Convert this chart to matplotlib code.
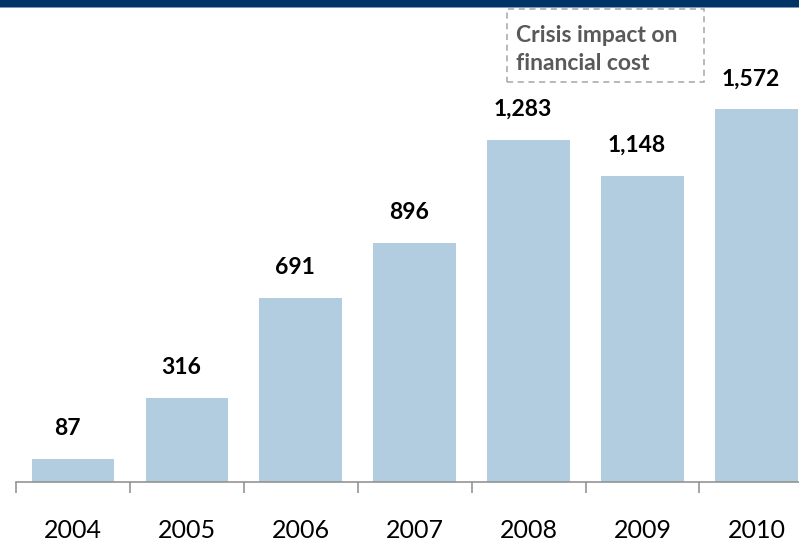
import matplotlib
matplotlib.use("Agg")
import matplotlib.pyplot as plt
from matplotlib.patches import Rectangle

# Annual financial cost figures
years = ["2004", "2005", "2006", "2007", "2008", "2009", "2010"]
values = [87, 316, 691, 896, 1283, 1148, 1572]
value_labels = ["87", "316", "691", "896", "1,283", "1,148", "1,572"]
note_lines = ["Crisis impact on", "financial cost"]

W, H, DPI = 799, 547, 100
plt.rcParams["font.family"] = ["Lato", "DejaVu Sans"]

fig = plt.figure(figsize=(W / DPI, H / DPI), dpi=DPI)

# Axes placement in pixel terms
ax_left, ax_right = 16, 799
ax_top, ax_bottom = 109.3, 482
ax = fig.add_axes([ax_left / W, (H - ax_bottom) / H,
                   (ax_right - ax_left) / W, (ax_bottom - ax_top) / H])

x = list(range(len(years)))
ytop = 1398.5
ax.bar(x, values, width=0.725, color="#B3CDE0", zorder=2)

for side in ("left", "right", "top"):
    ax.spines[side].set_visible(False)
ax.spines["bottom"].set_color("#8C8C8C")
ax.spines["bottom"].set_linewidth(1.1)
ax.set_yticks([])

ax.set_xticks(x, years)
ax.tick_params(axis="x", which="major", length=0, pad=27,
               labelsize=18, labelcolor="black")
ax.set_xticks([i - 0.5 for i in range(len(years) + 1)], minor=True)
ax.tick_params(axis="x", which="minor", length=8, width=1.1,
               color="#8C8C8C", direction="out")

# Limits set after ticks so the tick list does not widen the view
ax.set_xlim(-0.5, 6.374)
ax.set_ylim(0, ytop)

# Value labels above each bar
for xi, v, lab in zip(x, values, value_labels):
    ax.annotate(lab, (xi, min(v, ytop)), xytext=(-4, 22),
                textcoords="offset points", ha="center", va="center",
                fontsize=16.5, fontweight="bold", color="black",
                annotation_clip=False)

# Top banner
fig.patches.append(Rectangle((0, 1 - 7 / H), 1, 7 / H, transform=fig.transFigure,
                             facecolor="#003366", edgecolor="none", zorder=5))
fig.patches.append(Rectangle((0, 1 - 8 / H), 1, 1 / H, transform=fig.transFigure,
                             facecolor="#7C98B6", edgecolor="none", zorder=5))

# Dashed note box
bx0, bx1, by0, by1 = 506.7, 704, 9.3, 81.7
fig.patches.append(Rectangle((bx0 / W, 1 - by1 / H), (bx1 - bx0) / W, (by1 - by0) / H,
                             transform=fig.transFigure, facecolor="none",
                             edgecolor="#A6A6A6", linewidth=1.1,
                             linestyle=(0, (4, 3)), zorder=5))
for line, base in zip(note_lines, (42, 70)):
    fig.text(516 / W, 1 - base / H, line, ha="left", va="baseline",
             fontsize=16.5, fontweight="bold", color="#595959")

fig.savefig("out.png", dpi=DPI)
